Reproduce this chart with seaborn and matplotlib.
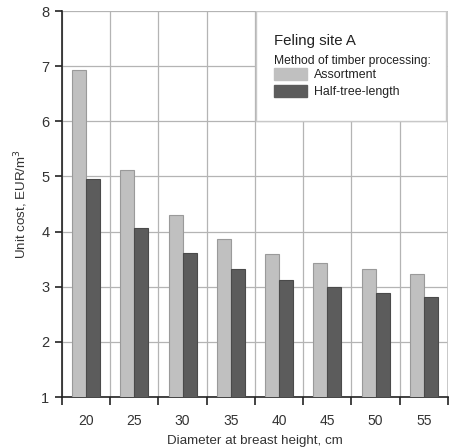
import matplotlib
matplotlib.use("Agg")
import matplotlib.pyplot as plt
import seaborn as sns
import pandas as pd
from matplotlib.patches import Rectangle, Patch

diameters = ["20", "25", "30", "35", "40", "45", "50", "55"]
assortment = [6.93, 5.11, 4.30, 3.86, 3.60, 3.43, 3.32, 3.23]
half_tree = [4.96, 4.06, 3.61, 3.33, 3.13, 3.00, 2.89, 2.82]
methods = ["Assortment", "Half-tree-length"]

df = pd.DataFrame({
    "Diameter": diameters * 2,
    "Cost": assortment + half_tree,
    "Method": [methods[0]] * len(diameters) + [methods[1]] * len(diameters),
})

sns.set_style("white")
plt.rcParams["font.family"] = ["Liberation Sans", "DejaVu Sans"]

fig = plt.figure(figsize=(4.56, 4.48), dpi=100)
ax = fig.add_axes([62 / 456, 1 - 397 / 448, 386 / 456, 386 / 448])

palette = {methods[0]: "#c0c0c0", methods[1]: "#5c5c5c"}
sns.barplot(data=df, x="Diameter", y="Cost", hue="Method", palette=palette,
            width=0.58, ax=ax, legend=False, saturation=1)
for p in ax.patches:
    fc = p.get_facecolor()
    p.set_edgecolor("#9a9a9a" if fc[0] > 0.5 else "#4a4a4a")
    p.set_linewidth(0.8)
    p.set_zorder(3)

ax.set_ylim(1, 8)
ax.set_xlim(-0.5, 7.5)
ax.set_yticks(range(1, 9))
ax.set_xticks(range(8))
ax.set_xticks([i - 0.5 for i in range(9)], minor=True)
ax.set_axisbelow(True)
ax.grid(True, axis="y", which="major", color="#b4b4b4", linewidth=0.9)
ax.grid(True, axis="x", which="minor", color="#b4b4b4", linewidth=0.9)
ax.grid(False, axis="x", which="major")

for s in ["top", "right"]:
    ax.spines[s].set_visible(False)
for s in ["left", "bottom"]:
    ax.spines[s].set_color("#222222")
    ax.spines[s].set_linewidth(1.2)
ax.axvline(7.5, color="#c4c4c4", linewidth=2.0, zorder=1)

ax.tick_params(axis="x", which="major", length=0, pad=12, labelsize=10, colors="#333333")
ax.tick_params(axis="x", which="minor", length=6, width=1.2, color="#222222", direction="out", bottom=True)
ax.tick_params(axis="y", length=5, width=1.2, color="#222222", direction="out", left=True,
               labelsize=10.5, labelcolor="#333333", pad=4)

ax.set_xlabel("Diameter at breast height, cm", fontsize=9.6, color="#333333", labelpad=5)
ax.set_ylabel("Unit cost, EUR/m$^3$", fontsize=9.6, color="#333333", labelpad=8)

# legend box
box = Rectangle((3.52, 6.0), 3.93, 2.0, facecolor="white", edgecolor="#c8c8c8",
                linewidth=1.0, zorder=2)
ax.add_patch(box)
ax.text(3.89, 7.375, "Feling site A", fontsize=10.8, color="#222222", zorder=4,
        va="baseline")
ax.text(3.89, 7.045, "Method of timber processing:", fontsize=8.7, color="#222222",
        zorder=4, va="baseline")
handles = [Patch(facecolor=palette[m], edgecolor=palette[m]) for m in methods]
leg = ax.legend(handles, methods, loc="upper left", bbox_to_anchor=(0.548, 0.852),
                frameon=False, fontsize=8.9, handlelength=2.7, handleheight=1.14,
                handletextpad=0.57, labelspacing=0.25, borderaxespad=0, borderpad=0)
for t in leg.get_texts():
    t.set_color("#222222")
leg.set_zorder(5)

fig.savefig("out.png", dpi=100)
